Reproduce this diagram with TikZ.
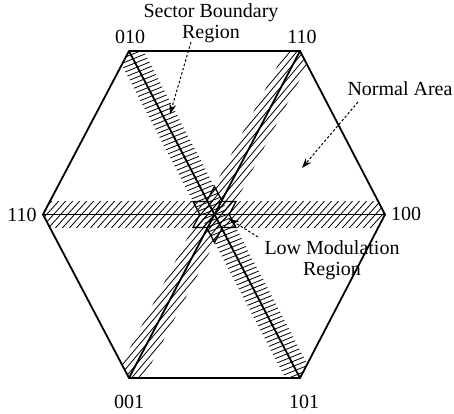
\documentclass[tikz,border=0pt]{standalone}
\usepackage{fontspec}
\setmainfont{Liberation Serif}
\usetikzlibrary{calc,arrows.meta}
\begin{document}
\begin{tikzpicture}[x=1pt,y=-1pt,
  lbl/.style={font=\fontsize{20}{21}\selectfont, inner sep=0pt},
  edge/.style={line width=1.8pt},
  axisline/.style={line width=1.8pt},
  starline/.style={line width=1.3pt, line join=miter},
  hatch/.style={line width=0.8pt},
  callout/.style={dashed, dash pattern=on 2.5pt off 2pt, line width=1pt, -{Stealth[length=10pt,width=7pt]}}]
\useasboundingbox (0,0) rectangle (454,413);
\coordinate (tl) at (129,51);
\coordinate (tr) at (300,51);
\coordinate (r) at (385,214.5);
\coordinate (br) at (300,378);
\coordinate (bl) at (129,378);
\coordinate (l) at (43,214.5);
\coordinate (c) at (214.5,214.5);
% extended ends of the three axes
\coordinate (a1) at ($(tl)!-30pt!(br)$); \coordinate (b1) at ($(br)!-30pt!(tl)$);
\coordinate (a2) at ($(tr)!-30pt!(bl)$); \coordinate (b2) at ($(bl)!-30pt!(tr)$);
\coordinate (a3) at ($(l)!-30pt!(r)$);   \coordinate (b3) at ($(r)!-30pt!(l)$);
% hatched bands: band ends, hatch angle (image, up-right), spacing
\foreach \A/\B/\t/\d in {a1/b1/22/4.6, a2/b2/50/5.2, a3/b3/48/5.2}{
  \begin{scope}
    \clip (tl) -- (tr) -- (r) -- (br) -- (bl) -- (l) -- cycle;
    \clip ($(\A)!13pt!90:(\B)$) -- ($(\B)!13pt!-90:(\A)$) -- ($(\B)!13pt!90:(\A)$) -- ($(\A)!13pt!-90:(\B)$) -- cycle;
    \foreach \k in {-50,...,50}{
      \draw[hatch] ($(c)+({\k*\d*sin(\t)+400*cos(\t)},{\k*\d*cos(\t)-400*sin(\t)})$) -- ($(c)+({\k*\d*sin(\t)-400*cos(\t)},{\k*\d*cos(\t)+400*sin(\t)})$);
    }
  \end{scope}
}
\draw[axisline] (tl) -- (br);
\draw[axisline] (tr) -- (bl);
\draw[axisline] (l) -- (r);
\draw[edge, line join=miter] (tl) -- (tr) -- (r) -- (br) -- (bl) -- (l) -- cycle;
% low modulation star
\draw[starline, shift={(c)}] (0,-28) -- (7.9,-13) -- (21.5,-13) -- (14.7,0) -- (21.5,13) -- (7.9,13) -- (0,28) -- (-7.9,13) -- (-21.5,13) -- (-14.7,0) -- (-21.5,-13) -- (-7.9,-13) -- cycle;
% vertex labels
\node[lbl] (n010) at (130,37) {010};
\node[lbl] (n110t) at (302,37) {110};
\node[lbl] (n110l) at (22,215) {110};
\node[lbl] (n100) at (406,214) {100};
\node[lbl] (n001) at (129,402) {001};
\node[lbl] (n101) at (304,402) {101};
% callouts
\node[lbl, align=center] (sb) at (211,23) {Sector Boundary\\Region};
\node[lbl] (na) at (400,89) {Normal Area};
\node[lbl, align=center] (lm) at (332,260) {Low Modulation\\Region};
\coordinate (sbS) at (191,42);
\coordinate (sbE) at (170,114);
\coordinate (naS) at (358,102);
\coordinate (naE) at (302,168);
\coordinate (lmS) at (258,237);
\coordinate (lmE) at (229,219);
\draw[callout] (sbS) -- (sbE);
\draw[callout] (naS) -- (naE);
\draw[callout] (lmS) -- (lmE);
\end{tikzpicture}
\end{document}
